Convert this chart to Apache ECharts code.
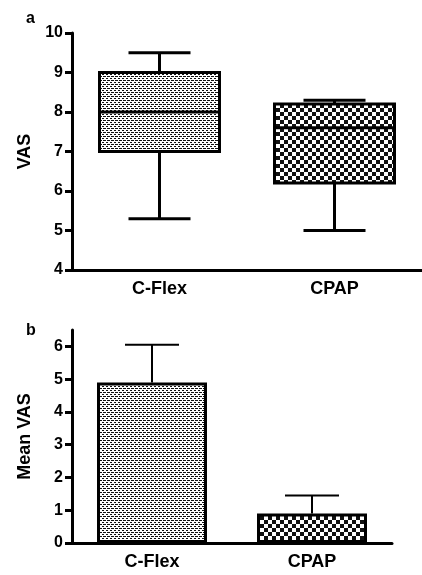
<!DOCTYPE html>
<html>
<head>
<meta charset="utf-8">
<script src="https://cdn.jsdelivr.net/npm/echarts@6/dist/echarts.min.js"></script>
<style>
  html, body { margin: 0; padding: 0; background: #fff; }
  #chart { width: 422px; height: 575px; }
</style>
</head>
<body>
<div id="chart"></div>
<script>
var groups = ['C-Flex', 'CPAP'];
// panel a: [min, Q1, median, Q3, max]
var vasBox = [
  [5.3, 7.0, 8.0, 9.0, 9.5],
  [5.0, 6.2, 7.6, 8.2, 8.3]
];
// panel b: mean and upper error
var meanVas = [4.9, 0.9];
var meanErr = [1.15, 0.55];
var ticksB = [0, 1, 2, 3, 4, 5, 6];

var font = 'Liberation Sans, Arial, sans-serif';

function makePattern(size, cells) {
  var c = document.createElement('canvas');
  c.width = size; c.height = size;
  var ctx = c.getContext('2d');
  ctx.fillStyle = '#fff';
  ctx.fillRect(0, 0, size, size);
  ctx.fillStyle = '#111';
  cells.forEach(function (p) { ctx.fillRect(p[0], p[1], p[2] || 1, p[3] || 1); });
  return { image: c, repeat: 'repeat' };
}
// fine stipple and coarse checkerboard
var dots = makePattern(4, [[0, 0, 2, 1], [2, 2, 2, 1], [3, 0, 1, 1]]);
var checks = makePattern(8, [[0, 0, 4, 4], [4, 4, 4, 4]]);
var fills = [dots, checks];

var chart = echarts.init(document.getElementById('chart'));

function yAxisCommon(name) {
  return {
    type: 'value',
    name: name,
    nameLocation: 'middle',
    nameGap: 38,
    nameTextStyle: { fontFamily: font, fontWeight: 'bold', fontSize: 18, color: '#000' },
    splitLine: { show: false },
    axisLine: { show: true, lineStyle: { color: '#000', width: 3 } },
    axisTick: { show: true, length: 7, lineStyle: { color: '#000', width: 3 } },
    axisLabel: { fontFamily: font, fontWeight: 'bold', fontSize: 16, color: '#000', margin: 9 }
  };
}
function xAxisCommon(grid) {
  return {
    type: 'category',
    gridIndex: grid,
    data: groups,
    axisLine: { lineStyle: { color: '#000', width: 3 } },
    axisTick: { alignWithLabel: true, length: 7, lineStyle: { color: '#000', width: 3 } },
    axisLabel: { fontFamily: font, fontWeight: 'bold', fontSize: 18, color: '#000', margin: 10 }
  };
}

var yA = yAxisCommon('VAS');
yA.gridIndex = 0; yA.min = 4; yA.max = 10; yA.interval = 1;
var yB = yAxisCommon('Mean VAS');
yB.gridIndex = 1; yB.min = 0; yB.max = 6.5; yB.interval = 1;
yB.axisLabel.customValues = ticksB;
yB.axisTick.customValues = ticksB;

var option = {
  animation: false,
  title: [
    { text: 'a', left: 21, top: 6, textStyle: { fontFamily: font, fontWeight: 'bold', fontSize: 16, color: '#000' } },
    { text: 'b', left: 21, top: 318, textStyle: { fontFamily: font, fontWeight: 'bold', fontSize: 16, color: '#000' } }
  ],
  grid: [
    { left: 72, top: 33, width: 358, height: 237 },
    { left: 72, top: 330, width: 320, height: 213 }
  ],
  xAxis: [xAxisCommon(0), xAxisCommon(1)],
  yAxis: [yA, yB],
  series: [
    {
      // box and whiskers, caps half the box width
      type: 'custom',
      xAxisIndex: 0, yAxisIndex: 0,
      data: vasBox.map(function (d, i) { return [i].concat(d); }),
      renderItem: function (params, api) {
        var i = api.value(0);
        var pMin = api.coord([i, api.value(1)]);
        var pQ1 = api.coord([i, api.value(2)]);
        var pMed = api.coord([i, api.value(3)]);
        var pQ3 = api.coord([i, api.value(4)]);
        var pMax = api.coord([i, api.value(5)]);
        var x = pMin[0], hw = 60, cw = 31;
        var ln = { stroke: '#000', lineWidth: 3 };
        return {
          type: 'group',
          children: [
            { type: 'line', shape: { x1: x, y1: pQ3[1], x2: x, y2: pMax[1] }, style: ln },
            { type: 'line', shape: { x1: x, y1: pQ1[1], x2: x, y2: pMin[1] }, style: ln },
            { type: 'line', shape: { x1: x - cw, y1: pMax[1], x2: x + cw, y2: pMax[1] }, style: ln },
            { type: 'line', shape: { x1: x - cw, y1: pMin[1], x2: x + cw, y2: pMin[1] }, style: ln },
            { type: 'rect', shape: { x: x - hw, y: pQ3[1], width: hw * 2, height: pQ1[1] - pQ3[1] },
              style: { fill: fills[i], stroke: '#000', lineWidth: 3 } },
            { type: 'line', shape: { x1: x - hw, y1: pMed[1], x2: x + hw, y2: pMed[1] }, style: ln }
          ]
        };
      }
    },
    {
      type: 'bar',
      xAxisIndex: 1, yAxisIndex: 1,
      barWidth: 110,
      data: meanVas.map(function (v, i) {
        return { value: v, itemStyle: { color: fills[i], borderColor: '#000', borderWidth: 3 } };
      })
    },
    {
      type: 'custom',
      xAxisIndex: 1, yAxisIndex: 1,
      z: 1,
      data: meanVas.map(function (v, i) { return [i, v, v + meanErr[i]]; }),
      renderItem: function (params, api) {
        var lo = api.coord([api.value(0), api.value(1)]);
        var hi = api.coord([api.value(0), api.value(2)]);
        var half = 27;
        var style = { stroke: '#000', lineWidth: 2 };
        return {
          type: 'group',
          children: [
            { type: 'line', shape: { x1: lo[0], y1: lo[1], x2: hi[0], y2: hi[1] }, style: style },
            { type: 'line', shape: { x1: hi[0] - half, y1: hi[1], x2: hi[0] + half, y2: hi[1] }, style: style }
          ]
        };
      }
    }
  ]
};

chart.setOption(option);
</script>
</body>
</html>
